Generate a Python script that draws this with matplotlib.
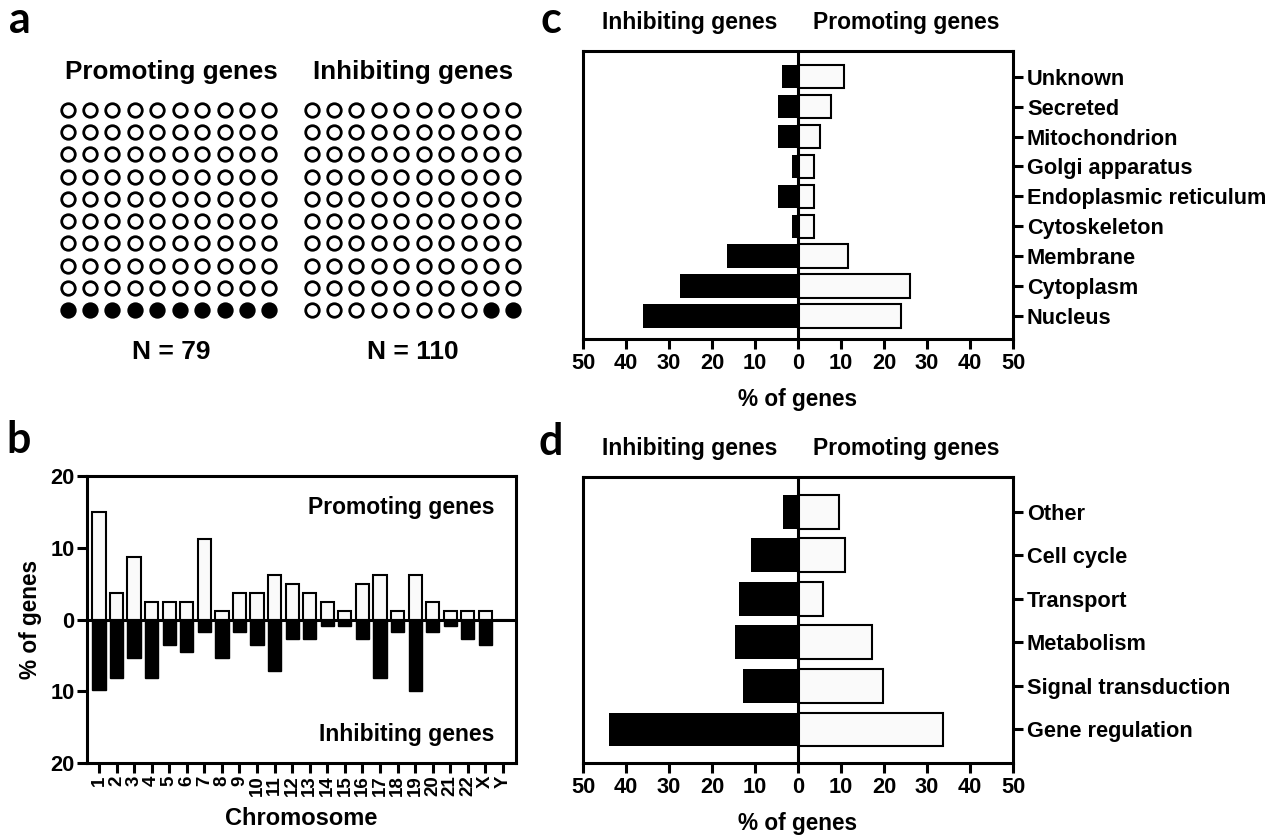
import matplotlib
matplotlib.use("Agg")
import matplotlib.pyplot as plt
import numpy as np

plt.rcParams['font.family'] = ['Liberation Sans', 'DejaVu Sans']
plt.rcParams['font.weight'] = 'bold'
plt.rcParams['axes.labelweight'] = 'bold'

# ---- data ----
grid_n = 10
prom_filled = 10      # filled dots, promoting genes (N = 79)
inh_filled = 2        # filled dots, inhibiting genes (N = 110)
prom_N = 79
inh_N = 110

chromosomes = ['1', '2', '3', '4', '5', '6', '7', '8', '9', '10', '11', '12',
               '13', '14', '15', '16', '17', '18', '19', '20', '21', '22', 'X', 'Y']
chr_prom = [15.0, 3.7, 8.7, 2.4, 2.4, 2.4, 11.2, 1.2, 3.7, 3.7, 6.2, 5.0,
            3.7, 2.4, 1.2, 5.0, 6.2, 1.2, 6.2, 2.4, 1.2, 1.2, 1.2, 0]
chr_inh = [9.8, 8.1, 5.4, 8.1, 3.6, 4.5, 1.8, 5.4, 1.8, 3.6, 7.2, 2.7,
           2.7, 0.9, 0.9, 2.7, 8.1, 1.8, 9.9, 1.8, 0.9, 2.7, 3.6, 0]

loc_cats = ['Unknown', 'Secreted', 'Mitochondrion', 'Golgi apparatus',
            'Endoplasmic reticulum', 'Cytoskeleton', 'Membrane', 'Cytoplasm', 'Nucleus']
loc_prom = [10.6, 7.6, 5.1, 3.8, 3.8, 3.8, 11.6, 26.0, 24.0]
loc_inh = [3.8, 4.6, 4.6, 1.3, 4.6, 1.3, 16.4, 27.5, 36.0]

fun_cats = ['Other', 'Cell cycle', 'Transport', 'Metabolism',
            'Signal transduction', 'Gene regulation']
fun_prom = [9.6, 11.0, 5.8, 17.2, 19.7, 33.8]
fun_inh = [3.5, 10.9, 13.7, 14.7, 12.8, 44.0]

W, H = 1286, 839
fig = plt.figure(figsize=(W / 100, H / 100), dpi=100)


def rect(l, t, r, b):
    return [l / W, 1 - b / H, (r - l) / W, (b - t) / H]


def ftext(x, y, s, **kw):
    kw.setdefault('fontsize', 16.5)
    kw.setdefault('ha', 'center')
    kw.setdefault('va', 'center')
    fig.text(x / W, 1 - y / H, s, **kw)


LW = 2.2
WHITE = '#fafafa'
FS = 15.7

# ---- panel a ----
for (l, r, n_fill, title, N, cx) in [(52, 285, prom_filled, 'Promoting genes', prom_N, 171),
                                      (296, 529, inh_filled, 'Inhibiting genes', inh_N, 413)]:
    ax = fig.add_axes(rect(l, 94, r, 326))
    idx = np.arange(grid_n * grid_n)
    col = idx % grid_n
    row = idx // grid_n
    filled = idx >= grid_n * grid_n - n_fill
    ax.scatter(col[~filled], row[~filled], s=95, facecolor='white',
               edgecolor='black', linewidths=2.0)
    ax.scatter(col[filled], row[filled], s=95, facecolor='black',
               edgecolor='black', linewidths=2.0)
    ax.set_xlim(-0.7, grid_n - 0.3)
    ax.set_ylim(grid_n - 0.3, -0.7)
    ax.axis('off')
    ftext(cx, 72, title, fontsize=18.7)
    ftext(cx, 352, f'N = {N}', fontsize=19)

# ---- panel b ----
axb = fig.add_axes(rect(87, 476, 516, 763))
xb = np.arange(len(chromosomes))
axb.bar(xb, chr_prom, width=0.75, color=WHITE, edgecolor='black', linewidth=1.5)
axb.bar(xb, -np.array(chr_inh), width=0.75, color='black', edgecolor='black', linewidth=1.0)
axb.axhline(0, color='black', lw=LW)
axb.set_xlim(-0.68, len(chromosomes) - 0.26)
axb.set_ylim(-20, 20)
axb.set_yticks([-20, -10, 0, 10, 20])
axb.set_yticklabels(['20', '10', '0', '10', '20'], fontsize=FS)
axb.set_xticks(xb)
axb.set_xticklabels(chromosomes, rotation=90, fontsize=13.5)
axb.set_ylabel('% of genes', fontsize=16.3, labelpad=6)
axb.set_xlabel('Chromosome', fontsize=17, labelpad=8)
axb.text(0.95, 0.89, 'Promoting genes', transform=axb.transAxes, ha='right', va='center', fontsize=16.5)
axb.text(0.95, 0.1, 'Inhibiting genes', transform=axb.transAxes, ha='right', va='center', fontsize=16.5)
for s in axb.spines.values():
    s.set_linewidth(LW)
axb.tick_params(direction='out', length=7, width=LW, pad=2)


# ---- panels c, d ----
def butterfly(ax, cats, prom, inh, height):
    n = len(cats)
    y = n - 1 - np.arange(n)
    ax.barh(y, prom, height=height, color=WHITE, edgecolor='black', linewidth=1.5)
    ax.barh(y, -np.array(inh), height=height, color='black')
    ax.axvline(0, color='black', lw=LW)
    ax.set_xlim(-50, 50)
    ax.set_xticks(np.arange(-50, 51, 10))
    ax.set_xticklabels([str(abs(v)) for v in range(-50, 51, 10)], fontsize=FS)
    ax.set_yticks(y)
    ax.set_yticklabels(cats, fontsize=FS)
    ax.yaxis.tick_right()
    ax.tick_params(axis='y', left=False, right=True)
    ax.tick_params(direction='out', length=7, width=LW, pad=3)
    ax.set_xlabel('% of genes', fontsize=16.3, labelpad=10)
    for s in ax.spines.values():
        s.set_linewidth(LW)


axc = fig.add_axes(rect(583, 51, 1013, 339))
butterfly(axc, loc_cats, loc_prom, loc_inh, 0.78)
axc.set_ylim(-0.77, len(loc_cats) - 1 + 0.86)
ftext(690, 22, 'Inhibiting genes')
ftext(906, 22, 'Promoting genes')

axd = fig.add_axes(rect(583, 477, 1013, 763))
butterfly(axd, fun_cats, fun_prom, fun_inh, 0.78)
axd.set_ylim(-0.77, len(fun_cats) - 1 + 0.8)
ftext(690, 448, 'Inhibiting genes')
ftext(906, 448, 'Promoting genes')

# ---- panel letters ----
for letter, x, y in [('a', 9, 33), ('b', 6, 453), ('c', 540, 33), ('d', 539, 455)]:
    ftext(x, y, letter, fontsize=31, ha='left', va='baseline',
          family=['Lato', 'DejaVu Sans'], fontweight='bold')

fig.savefig('out.png', dpi=100)
